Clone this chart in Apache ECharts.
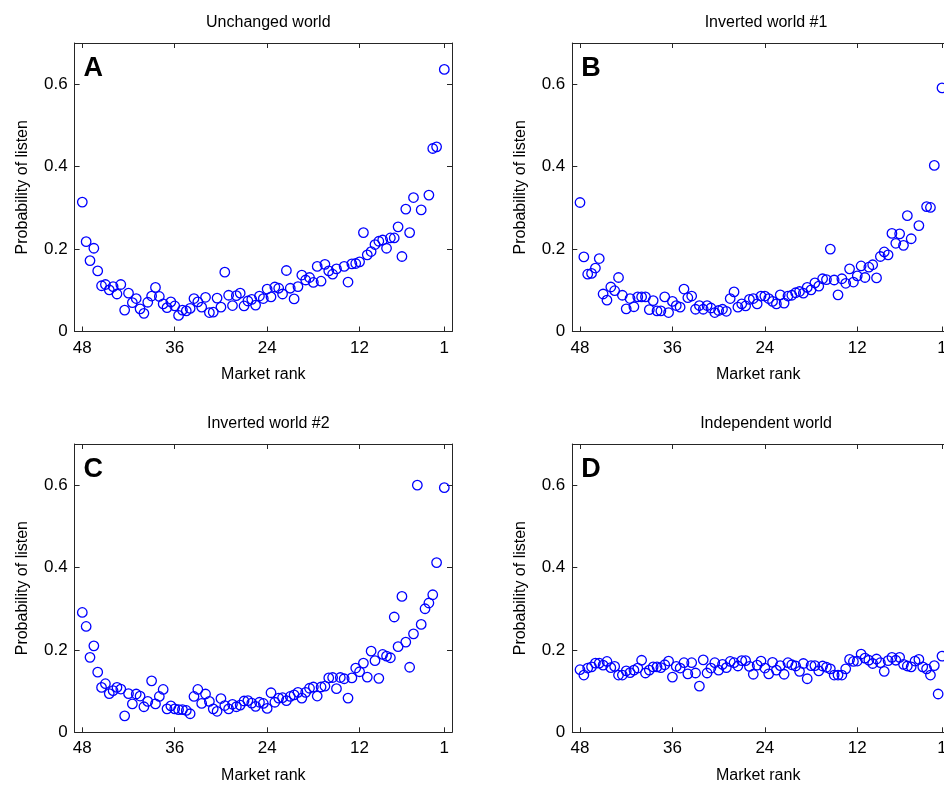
<!DOCTYPE html>
<html>
<head>
<meta charset="utf-8">
<script src="https://cdn.jsdelivr.net/npm/echarts@6/dist/echarts.min.js"></script>
<style>
html,body{margin:0;padding:0;background:#fff;}
#chart{width:944px;height:788px;}
</style>
</head>
<body>
<div id="chart"></div>
<script>
// Market rank positions (half steps from 48 down to 1)
const ranks = [48,47.5,47,46.5,46,45.5,45,44.5,44,43.5,43,42.5,42,41.5,41,40.5,40,39.5,39,38.5,
  38,37.5,37,36.5,36,35.5,35,34.5,34,33.5,33,32.5,32,31.5,31,30.5,30,29.5,29,28.5,
  28,27.5,27,26.5,26,25.5,25,24.5,24,23.5,23,22.5,22,21.5,21,20.5,20,19.5,19,18.5,
  18,17.5,17,16.5,16,15.5,15,14.5,14,13.5,13,12.5,12,11.5,11,10.5,10,9.5,9,8.5,
  8,7.5,7,6.5,6,5.5,5,4.5,4,3.5,3,2.5,2,1.5,1];

const panelTitles = ["Unchanged world", "Inverted world #1", "Inverted world #2", "Independent world"];
const panelLetters = ["A", "B", "C", "D"];
const xTickValues = [48, 36, 24, 12, 1];
const yTickValues = [0, 0.2, 0.4, 0.6];

const unchanged = [
  .314,.218,.172,.202,.147,.111,.114,.101,.109,.091,
  .114,.052,.093,.070,.080,.055,.044,.071,.086,.107,
  .085,.067,.058,.072,.062,.039,.052,.050,.056,.080,
  .072,.059,.083,.046,.047,.081,.059,.144,.088,.063,
  .087,.093,.062,.074,.078,.064,.086,.080,.103,.084,
  .108,.105,.091,.148,.105,.079,.109,.137,.125,.131,
  .119,.158,.122,.163,.147,.139,.152,null,.158,.120,
  .164,.165,.169,.240,.186,.194,.211,.219,.222,.202,
  .227,.227,.254,.182,.297,.240,.325,null,.295,null,
  .331,.444,.448,null,.636];

const inverted1 = [
  .313,.181,.139,.141,.154,.177,.091,.076,.108,.099,
  .131,.088,.055,.080,.060,.084,.084,.084,.053,.075,
  .050,.050,.084,.046,.073,.063,.059,.103,.082,.086,
  .054,.063,.054,.063,.057,.046,.051,.054,.049,.080,
  .096,.059,.067,.062,.078,.080,.067,.086,.086,.080,
  .073,.067,.089,.069,.086,.088,.094,.097,.093,.107,
  .101,.118,.110,.128,.126,.200,.125,.089,.128,.117,
  .152,.120,.135,.159,.131,.156,.162,.130,.182,.193,
  .186,.238,.214,.237,.209,.281,.225,null,.257,null,
  .303,.301,.403,null,.591];

const inverted2 = [
  .291,.257,.182,.210,.146,.109,.118,.094,.101,.109,
  .105,.040,.094,.069,.093,.088,.062,.075,.125,.069,
  .087,.104,.057,.064,.057,.055,.055,.053,.045,.087,
  .104,.070,.093,.075,.057,.051,.082,.065,.057,.068,
  .062,.066,.076,.077,.071,.063,.073,.070,.058,.096,
  .073,.083,.084,.077,.087,.091,.097,.083,.097,.107,
  .110,.088,.110,.112,.132,.133,.106,.133,.130,.083,
  .132,.156,.147,.168,.134,.197,.174,.131,.189,.185,
  .181,.280,.208,.330,.219,.158,.239,.600,.262,.300,
  .314,.334,.412,null,.594];

const independent = [
  .152,.139,.156,.159,.168,.168,.163,.172,.157,.160,
  .139,.139,.149,.145,.151,.156,.175,.144,.151,.159,
  .159,.157,.164,.173,.134,.160,.156,.169,.142,.169,
  .144,.112,.176,.144,.156,.169,.151,.165,.157,.172,
  .169,.161,.174,.174,.160,.141,.163,.173,.156,.142,
  .170,.151,.162,.141,.169,.164,.161,.148,.167,.130,
  .162,.162,.149,.161,.158,.154,.139,.139,.139,.154,
  .177,.172,.173,.190,.180,.175,.167,.178,.169,.148,
  .174,.182,.175,.182,.165,.161,.159,.173,.177,.159,
  .154,.139,.162,.093,.185];

const panelValues = [unchanged, inverted1, inverted2, independent];

// layout (pixels); right-hand panels are cut by the picture's right edge
const grids = [
  {left: 74.6, top: 43, width: 377.4, height: 288.5, outerBoundsMode: 'none', containLabel: false},
  {left: 572.3, top: 43, width: 371.7, height: 288.5, outerBoundsMode: 'none', containLabel: false},
  {left: 74.6, top: 444, width: 377.4, height: 288.3, outerBoundsMode: 'none', containLabel: false},
  {left: 572.3, top: 444, width: 371.7, height: 288.3, outerBoundsMode: 'none', containLabel: false}
];
const xMins = [0, 0.74, 0, 0.74];
const showRightAxis = [true, false, true, false];

const FONT = "'Liberation Sans', Arial, Helvetica, sans-serif";
const AXIS_COLOR = '#262626';

const xAxes = [], yAxes = [], series = [], titles = [];
grids.forEach((g, i) => {
  const common = {
    type: 'value', gridIndex: i, min: xMins[i], max: 49, inverse: true,
    axisLine: {show: true, onZero: false, lineStyle: {color: AXIS_COLOR, width: 1}},
    axisTick: {show: true, inside: true, length: 5, customValues: xTickValues, lineStyle: {color: AXIS_COLOR}},
    splitLine: {show: false}
  };
  xAxes.push(Object.assign({}, common, {
    position: 'bottom',
    axisLabel: {show: true, customValues: xTickValues, fontSize: 17, color: '#000', margin: 8, fontFamily: FONT,
      hideOverlap: false, showMinLabel: true, showMaxLabel: true},
    name: 'Market rank', nameLocation: 'middle', nameGap: 35,
    nameTextStyle: {fontSize: 16, color: '#000', fontFamily: FONT}
  }));
  xAxes.push(Object.assign({}, common, {
    position: 'top', axisLabel: {show: false}
  }));
  const ycommon = {
    type: 'value', gridIndex: i, min: 0, max: 0.7,
    axisLine: {show: true, onZero: false, lineStyle: {color: AXIS_COLOR, width: 1}},
    axisTick: {show: true, inside: true, length: 5, customValues: yTickValues, lineStyle: {color: AXIS_COLOR}},
    splitLine: {show: false}
  };
  yAxes.push(Object.assign({}, ycommon, {
    position: 'left',
    axisLabel: {show: true, customValues: yTickValues, fontSize: 17, color: '#000', margin: 7, fontFamily: FONT,
      formatter: v => (v === 0 ? '0' : String(Math.round(v * 10) / 10))},
    name: 'Probability of listen', nameLocation: 'middle', nameGap: 44, nameRotate: 90,
    nameTextStyle: {fontSize: 16, color: '#000', fontFamily: FONT}
  }));
  yAxes.push(Object.assign({}, ycommon, {
    position: 'right', show: showRightAxis[i], axisLabel: {show: false}
  }));
  const vals = panelValues[i];
  const data = [];
  ranks.forEach((r, k) => { if (vals[k] != null) data.push([r, vals[k]]); });
  series.push({
    type: 'scatter', xAxisIndex: 2 * i, yAxisIndex: 2 * i, data: data,
    symbol: 'circle', symbolSize: 9.5, clip: false,
    itemStyle: {color: 'rgba(0,0,0,0)', borderColor: '#0000ff', borderWidth: 1.3, opacity: 1},
    emphasis: {disabled: true}, silent: true, animation: false
  });
  titles.push({
    text: panelTitles[i], left: 74.6 + (i % 2) * 497.7 + 377.4 / 2, top: g.top - 33, textAlign: 'center',
    textStyle: {fontSize: 16, fontWeight: 'normal', color: '#000', fontFamily: FONT}
  });
  titles.push({
    text: panelLetters[i], left: g.left + 4, top: g.top + 7,
    textStyle: {fontSize: 27, fontWeight: 'bold', color: '#000', fontFamily: FONT}
  });
});

const chart = echarts.init(document.getElementById('chart'), null, {renderer: 'canvas'});
chart.setOption({
  backgroundColor: '#ffffff',
  animation: false,
  title: titles,
  grid: grids,
  xAxis: xAxes,
  yAxis: yAxes,
  series: series
});
</script>
</body>
</html>
